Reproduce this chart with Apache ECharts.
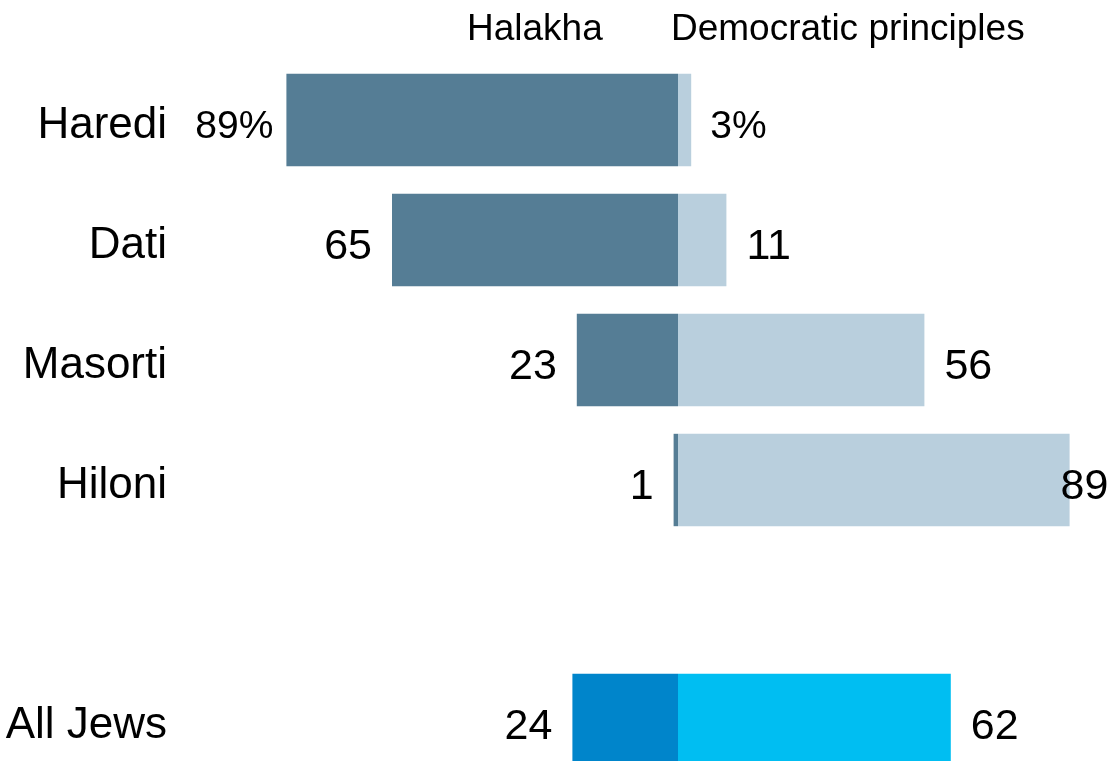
<!DOCTYPE html>
<html>
<head>
<meta charset="utf-8">
<script src="https://cdn.jsdelivr.net/npm/echarts@6/dist/echarts.min.js"></script>
<style>
html,body{margin:0;padding:0;background:#fff;}
#chart{width:1112px;height:761px;}
</style>
</head>
<body>
<div id="chart"></div>
<script>
var categories = ['Haredi', 'Dati', 'Masorti', 'Hiloni', '', 'All Jews'];
var halakha = [89, 65, 23, 1, null, 24];
var democratic = [3, 11, 56, 89, null, 62];
var halakhaLabels = ['89%', '65', '23', '1', '', '24'];
var democraticLabels = ['3%', '11', '56', '89', '', '62'];
var headers = ['Halakha', 'Democratic principles'];

var FONT = "'Liberation Sans', Arial, sans-serif";
var DARK = '#557D95', LIGHT = '#B9CFDD';
var DARK_ALL = '#0085CB', LIGHT_ALL = '#00BEF2';

function buildSeries(values, labels, sign, dark) {
  return values.map(function (v, i) {
    if (v === null) return '-';
    var isAll = categories[i] === 'All Jews';
    var item = {
      value: sign * v,
      itemStyle: { color: dark ? (isAll ? DARK_ALL : DARK) : (isAll ? LIGHT_ALL : LIGHT) },
      label: { formatter: labels[i] }
    };
    if (categories[i] === 'Haredi') {
      item.label.fontSize = 39;
      item.label.distance = dark ? 13 : 19;
    }
    if (!dark && categories[i] === 'Hiloni') {
      item.label.distance = -9;
    }
    return item;
  });
}

var chart = echarts.init(document.getElementById('chart'), null, { renderer: 'canvas' });
chart.setOption({
  animation: false,
  backgroundColor: '#fff',
  grid: { left: 238, width: 880, top: 60, height: 720, outerBoundsMode: 'none' },
  xAxis: {
    type: 'value', min: -100, max: 100, show: false
  },
  yAxis: {
    type: 'category', data: categories, inverse: true,
    axisLine: { show: false }, axisTick: { show: false }, splitLine: { show: false },
    axisLabel: {
      margin: 71,
      formatter: function (v) { return v ? '{a|' + v + '}' : ''; },
      rich: { a: { color: '#000', fontSize: 44, fontFamily: FONT, padding: [12, 0, 0, 0] } }
    }
  },
  graphic: [
    { type: 'text', left: 467, top: 11, style: { text: headers[0], fontSize: 37, fontFamily: FONT, fill: '#000' } },
    { type: 'text', left: 671, top: 11, style: { text: headers[1], fontSize: 37, fontFamily: FONT, fill: '#000' } }
  ],
  series: [
    {
      name: headers[0], type: 'bar', stack: 'total', barCategoryGap: '23%',
      data: buildSeries(halakha, halakhaLabels, -1, true),
      label: { show: true, position: 'left', distance: 20, offset: [0, 7], color: '#000', fontSize: 43, fontFamily: FONT }
    },
    {
      name: headers[1], type: 'bar', stack: 'total', barCategoryGap: '23%',
      data: buildSeries(democratic, democraticLabels, 1, false),
      label: { show: true, position: 'right', distance: 20, offset: [0, 7], color: '#000', fontSize: 43, fontFamily: FONT }
    }
  ]
});
</script>
</body>
</html>
